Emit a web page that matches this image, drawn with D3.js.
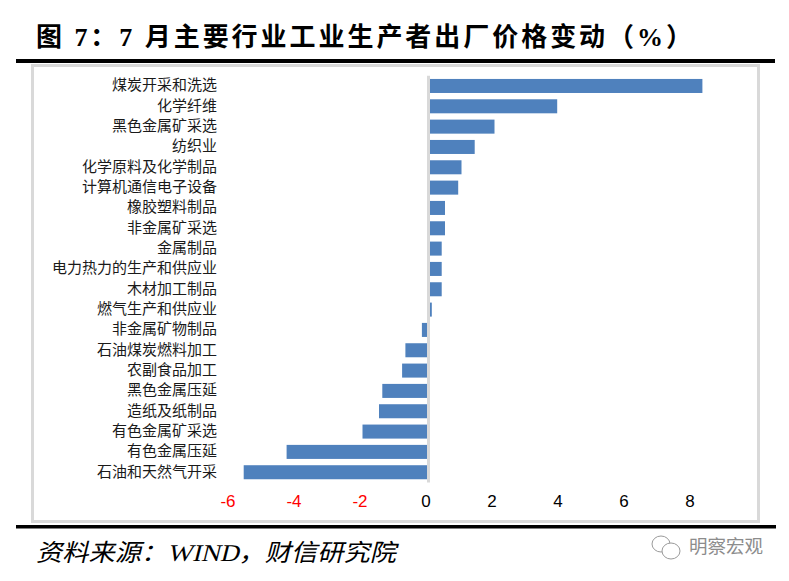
<!DOCTYPE html>
<html><head><meta charset="utf-8">
<script src="https://cdnjs.cloudflare.com/ajax/libs/d3/7.8.5/d3.min.js"></script>
<style>html,body{margin:0;padding:0;background:#fff}svg{display:block}</style>
</head><body><svg id="c" width="789" height="581"></svg>
<script>
const titleText = "图 7\uFF1A7 月主要行业工业生产者出厂价格变动\uFF08%\uFF09";
const sourceText = "资料来源\uFF1AWIND\uFF0C财信研究院";
const watermarkText = "明察宏观";
const categories = ["煤炭开采和洗选","化学纤维","黑色金属矿采选","纺织业","化学原料及化学制品","计算机通信电子设备","橡胶塑料制品","非金属矿采选","金属制品","电力热力的生产和供应业","木材加工制品","燃气生产和供应业","非金属矿物制品","石油煤炭燃料加工","农副食品加工","黑色金属压延","造纸及纸制品","有色金属矿采选","有色金属压延","石油和天然气开采"];
const values = [8.3,3.9,2.0,1.4,1.0,0.9,0.5,0.5,0.4,0.4,0.4,0.1,-0.2,-0.7,-0.8,-1.4,-1.5,-2.0,-4.3,-5.6];
const tickValues = [-6,-4,-2,0,2,4,6,8];

const cjk = '"Noto Sans CJK SC","Liberation Sans",sans-serif';
const svg = d3.select("#c");
const x = d3.scaleLinear().domain([-6,8]).range([230.5,692.5]);
const y = d3.scaleBand().domain(categories).range([75.8,482.4]).paddingInner(0.31).paddingOuter(0.155);

// frame
svg.append("rect").attr("x",32.5).attr("y",65.5).attr("width",726).attr("height",456)
  .attr("fill","#fff").attr("stroke","#d9d9d9").attr("stroke-width",3);

// rules
svg.append("rect").attr("x",16).attr("y",59).attr("width",759).attr("height",4).attr("fill","#000");
svg.append("rect").attr("x",16).attr("y",525).attr("width",760).attr("height",3.5).attr("fill","#000");

// title
svg.append("text").attr("x",36).attr("y",46).attr("font-family",'"Liberation Serif","Noto Sans CJK SC",serif')
  .attr("font-weight",700).attr("font-size",26).attr("textLength",656).attr("lengthAdjust","spacing")
  .attr("fill","#000").text(titleText);

// bars
svg.append("g").selectAll("rect").data(values).join("rect")
  .attr("x",d=>Math.min(x(0),x(d)))
  .attr("y",(d,i)=>y(categories[i]))
  .attr("width",d=>Math.abs(x(d)-x(0)))
  .attr("height",y.bandwidth())
  .attr("fill","#4f81bd");

// zero axis line
svg.append("line").attr("x1",x(0)).attr("x2",x(0)).attr("y1",y.range()[0]).attr("y2",y.range()[1])
  .attr("stroke","#d9d9d9").attr("stroke-width",3);

// category labels
svg.append("g").selectAll("text").data(categories).join("text")
  .attr("x",217).attr("y",d=>y(d)+y.bandwidth()/2-1).attr("dy","0.36em")
  .attr("text-anchor","end").attr("font-family",cjk).attr("font-size",15).attr("fill","#1a1a1a")
  .text(d=>d);

// value axis
const ax = svg.append("g").attr("transform","translate(-3,495)")
  .call(d3.axisBottom(x).tickValues(tickValues).tickSize(0).tickPadding(0).tickFormat(d3.format("d")));
ax.select(".domain").remove();
ax.selectAll("text").attr("font-family",'"Liberation Sans Narrow","Liberation Sans",sans-serif').attr("font-size",17)
  .attr("fill",d=>d<0?"#ff0000":"#000").text(d=>String(d));

// source
svg.append("g").attr("transform","translate(36,561) skewX(-14)")
  .append("text").attr("font-family",'"Liberation Serif","Noto Sans CJK SC",serif').attr("font-size",24)
  .attr("textLength",360).attr("lengthAdjust","spacingAndGlyphs").attr("fill","#000").text(sourceText);

// watermark
const wm = svg.append("g").attr("fill","#fff").attr("stroke","#9a9a9a").attr("stroke-width",1);
wm.append("ellipse").attr("cx",661).attr("cy",544).attr("rx",9).attr("ry",8);
wm.append("ellipse").attr("cx",671).attr("cy",551).attr("rx",9).attr("ry",8);
svg.append("text").attr("x",689).attr("y",553).attr("font-family",cjk).attr("font-size",18.5)
  .attr("fill","#8c8c8c").text(watermarkText);
</script></body></html>
